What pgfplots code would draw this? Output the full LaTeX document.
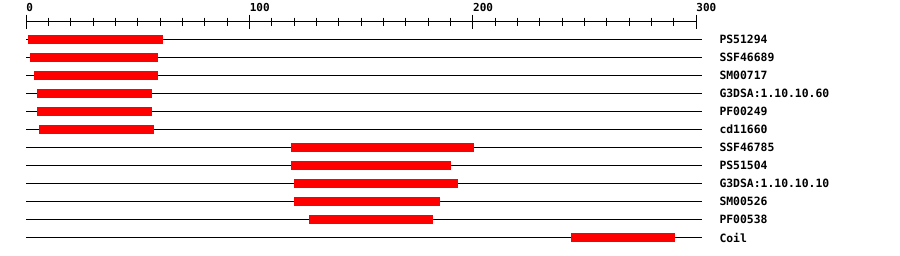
\documentclass[border=0pt]{standalone}
\usepackage{fontspec}
\setmainfont{DejaVu Sans Mono}
\usepackage{pgfplots}
\pgfplotsset{compat=1.18}

\definecolor{domainred}{RGB}{255,0,0}

\begin{document}
\begin{tikzpicture}[x=1pt,y=1pt]
\begin{axis}[
    at={(26.3pt,234.3pt)}, anchor=north west,
    x=2.2333pt, y=18pt, y dir=reverse,
    xmin=0, xmax=300, ymin=0, ymax=12.5,
    clip=false,
    axis x line*=top, axis y line*=right,
    y axis line style={draw=none},
    x axis line style={line width=1pt},
    xtick={0,100,200,300},
    minor x tick num=9,
    tick align=center,
    major tick length=14pt, minor tick length=8pt,
    every tick/.style={black, line width=1pt},
    ytick style={draw=none},
    /pgf/number format/assume math mode=true,
    xticklabel style={anchor=base west, inner sep=0pt, yshift=3.5pt,
        font=\fontsize{11}{13}\selectfont\bfseries},
    ytick={1,...,12},
    yticklabels={PS51294,SSF46689,SM00717,G3DSA:1.10.10.60,PF00249,cd11660,
        SSF46785,PS51504,G3DSA:1.10.10.10,SM00526,PF00538,Coil},
    yticklabel style={anchor=west, inner sep=0pt, xshift=16pt,
        font=\fontsize{11.4}{13}\selectfont\bfseries},
    domainbar/.style={domainred, line width=9pt, line cap=butt},
]
% sequence backbone for every track
\pgfplotsinvokeforeach{1,...,12}{
  \addplot[black, line width=1pt] coordinates {(0,#1) (302.4,#1)};
}
% domain / feature extents
\addplot[domainbar] coordinates {(0.8,1) (61.2,1)};
\addplot[domainbar] coordinates {(1.7,2) (59.0,2)};
\addplot[domainbar] coordinates {(3.4,3) (59.0,3)};
\addplot[domainbar] coordinates {(4.8,4) (56.3,4)};
\addplot[domainbar] coordinates {(4.8,5) (56.3,5)};
\addplot[domainbar] coordinates {(5.7,6) (57.2,6)};
\addplot[domainbar] coordinates {(118.5,7) (200.5,7)};
\addplot[domainbar] coordinates {(118.5,8) (190.2,8)};
\addplot[domainbar] coordinates {(119.9,9) (193.3,9)};
\addplot[domainbar] coordinates {(119.9,10) (185.2,10)};
\addplot[domainbar] coordinates {(126.6,11) (182.1,11)};
\addplot[domainbar] coordinates {(243.9,12) (290.5,12)};
\end{axis}
\pgfresetboundingbox
\path[use as bounding box] (0,0) rectangle (900,256);
\end{tikzpicture}
\end{document}
